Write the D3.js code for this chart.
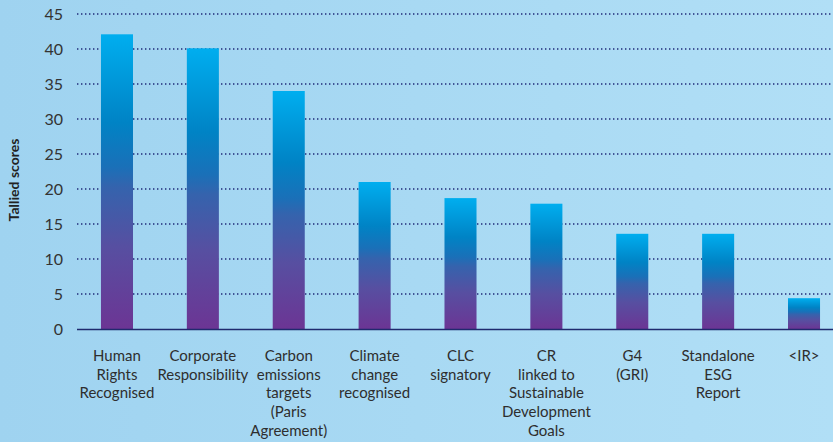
<!DOCTYPE html>
<html>
<head>
<meta charset="utf-8">
<script src="https://cdn.jsdelivr.net/npm/d3@7"></script>
<style>
  body { margin: 0; padding: 0; overflow: hidden; }
  svg { display: block; font-family: Lato, "Open Sans", sans-serif; }
</style>
</head>
<body>
<div id="chart"></div>
<script>
// categories, one per bar (lines of each label)
var categories = [
    ["Human", "Rights", "Recognised"],
    ["Corporate", "Responsibility"],
    ["Carbon", "emissions", "targets", "(Paris", "Agreement)"],
    ["Climate", "change", "recognised"],
    ["CLC", "signatory"],
    ["CR", "linked to", "Sustainable", "Development", "Goals"],
    ["G4", "(GRI)"],
    ["Standalone", "ESG", "Report"],
    ["<IR>"]
];
var scores = [42.1, 40.1, 34, 21, 18.7, 17.9, 13.6, 13.6, 4.4];
var yTicks = [0, 5, 10, 15, 20, 25, 30, 35, 40, 45];

var width = 833, height = 442;

var svg = d3.select("#chart")
    .append("svg")
    .attr("width", width)
    .attr("height", height);

var defs = svg.append("defs");

// background gradient
var bg = defs.append("linearGradient")
    .attr("id", "bg")
    .attr("x1", "0%").attr("y1", "0%")
    .attr("x2", "100%").attr("y2", "0%");
bg.append("stop").attr("offset", "0%").attr("stop-color", "#9fd3f0");
bg.append("stop").attr("offset", "100%").attr("stop-color", "#b1dff6");

// bar gradient, top cyan to bottom purple
var barGrad = defs.append("linearGradient")
    .attr("id", "barGrad")
    .attr("x1", "0").attr("y1", "0")
    .attr("x2", "0").attr("y2", "1");
[["0%", "#00aeef"], ["30%", "#0083c5"], ["45%", "#1a70b8"], ["52%", "#3563ad"],
 ["72%", "#574fa1"], ["100%", "#6c3594"]].forEach(function(s) {
    barGrad.append("stop").attr("offset", s[0]).attr("stop-color", s[1]);
});

svg.append("rect")
    .attr("width", width)
    .attr("height", height)
    .attr("fill", "url(#bg)");

var x0 = 77;
var x = d3.scaleBand()
    .domain(d3.range(categories.length))
    .range([x0, 844])
    .paddingInner(0.627)
    .paddingOuter(0.279);

var y = d3.scaleLinear()
    .domain([0, 45])
    .range([329, 14]);

// dotted gridlines
svg.append("g")
    .selectAll("line")
    .data(yTicks.filter(function(d) { return d > 0; }))
    .enter().append("line")
    .attr("x1", x0)
    .attr("x2", width)
    .attr("y1", function(d) { return y(d); })
    .attr("y2", function(d) { return y(d); })
    .attr("stroke", "#1f2a78")
    .attr("stroke-width", 1.6)
    .attr("stroke-dasharray", "1.4,2.6");

// bars
svg.append("g")
    .selectAll("rect")
    .data(scores)
    .enter().append("rect")
    .attr("x", function(d, i) { return x(i); })
    .attr("y", function(d) { return y(d); })
    .attr("width", x.bandwidth())
    .attr("height", function(d) { return y(0) - y(d); })
    .attr("fill", "url(#barGrad)");

// baseline
svg.append("line")
    .attr("x1", x0)
    .attr("x2", width)
    .attr("y1", y(0) + 0.5)
    .attr("y2", y(0) + 0.5)
    .attr("stroke", "#1f2a6e")
    .attr("stroke-width", 1.5);

// y tick labels
svg.append("g")
    .selectAll("text")
    .data(yTicks)
    .enter().append("text")
    .attr("x", 63)
    .attr("y", function(d) { return y(d); })
    .attr("dy", "0.35em")
    .attr("text-anchor", "end")
    .attr("fill", "#333")
    .style("font-size", "16px")
    .text(function(d) { return d; });

// y axis title
svg.append("text")
    .attr("transform", "translate(19,180) rotate(-90)")
    .attr("text-anchor", "middle")
    .attr("fill", "#222")
    .style("font-size", "14px")
    .style("font-weight", "bold")
    .text("Tallied scores");

// category labels
var labels = svg.append("g")
    .selectAll("text")
    .data(categories)
    .enter().append("text")
    .attr("text-anchor", "middle")
    .attr("fill", "#2e2e2e")
    .style("font-size", "15px")
    .attr("x", function(d, i) { return x(i) + x.bandwidth() / 2; })
    .attr("y", 361);

labels.selectAll("tspan")
    .data(function(d) { return d; })
    .enter().append("tspan")
    .attr("x", function() { return d3.select(this.parentNode).attr("x"); })
    .attr("dy", function(d, i) { return i === 0 ? 0 : 18.7; })
    .text(function(d) { return d; });
</script>
</body>
</html>
